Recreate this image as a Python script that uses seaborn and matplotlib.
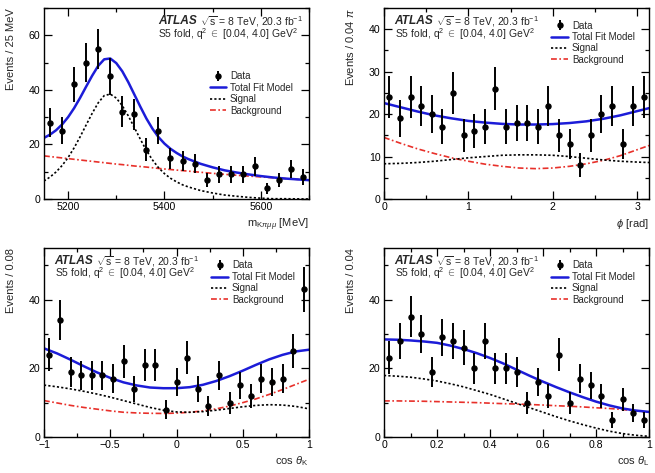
import numpy as np
import matplotlib
matplotlib.use("Agg")
import matplotlib.pyplot as plt
from matplotlib.ticker import AutoMinorLocator, MultipleLocator, FuncFormatter
import seaborn as sns

# ---- data: binned counts ----
mass_counts = [28, 25, 42, 50, 55, 45, 32, 31, 18, 25, 15, 14, 13, 7, 9, 9, 9, 12, 4, 7, 11, 8]
phi_counts = [24, 19, 24, 22, 20, 17, 25, 15, 16, 17, 26, 17, 18, 18, 17, 22, 15, 13, 8, 15, 20, 22, 13, 22, 24]
ctk_counts = [24, 34, 19, 18, 18, 18, 17, 22, 14, 21, 21, 8, 16, 23, 14, 9, 18, 10, 15, 12, 17, 16, 17, 25, 43]
ctl_counts = [23, 28, 35, 30, 19, 29, 28, 26, 20, 28, 20, 20, 19, 10, 16, 12, 24, 10, 17, 15, 12, 5, 11, 7, 5]

# ---- fit curves ----
mass_x = [5150, 5162.5, 5175, 5187.5, 5200, 5212.5, 5225, 5237.5, 5250, 5262.5, 5275, 5287.5,
          5300, 5312.5, 5325, 5337.5, 5350, 5362.5, 5375, 5387.5, 5400, 5412.5, 5425, 5437.5,
          5450, 5475, 5500, 5525, 5550, 5575, 5600, 5625, 5650, 5675, 5700]
mass_total = [22.4, 23.6, 25.2, 27.3, 30.0, 33.3, 37.1, 41.2, 45.2, 48.8, 51.2, 51.5,
              49.8, 46.8, 42.8, 38.3, 33.8, 29.5, 25.8, 22.7, 20.3, 18.4, 16.9, 15.6,
              14.6, 12.9, 11.6, 10.5, 9.7, 9.0, 8.4, 7.9, 7.5, 7.2, 6.9]
mass_sig = [6.6, 8.05, 9.9, 12.25, 15.2, 18.75, 22.8, 27.15, 31.4, 35.25, 37.9, 38.45,
            37.0, 34.2, 30.45, 26.2, 21.9, 17.8, 14.35, 11.5, 9.3, 7.6, 6.3, 5.2,
            4.4, 3.1, 2.2, 1.45, 1.0, 0.6, 0.3, 0.1, 0.1, 0.05, 0.0]
mass_bkg = [15.8, 15.55, 15.3, 15.05, 14.8, 14.55, 14.3, 14.05, 13.8, 13.55, 13.3, 13.05,
            12.8, 12.6, 12.35, 12.1, 11.9, 11.7, 11.45, 11.2, 11.0, 10.8, 10.6, 10.4,
            10.2, 9.8, 9.4, 9.05, 8.7, 8.4, 8.1, 7.8, 7.5, 7.2, 6.9]

phi_x = [0, 0.2, 0.4, 0.6, 0.8, 1.0, 1.2, 1.4, 1.6, 1.8, 2.0, 2.2, 2.4, 2.6, 2.8, 3.0, np.pi]
phi_total = [22.6, 21.6, 20.6, 19.7, 19.0, 18.4, 18.0, 17.7, 17.55, 17.55, 17.65, 17.9, 18.3, 18.9, 19.7, 20.7, 21.4]
phi_sig = [8.3, 8.4, 8.6, 8.9, 9.3, 9.7, 10.0, 10.3, 10.4, 10.4, 10.3, 10.0, 9.6, 9.2, 8.9, 8.7, 8.6]
phi_bkg = [14.5, 13.1, 11.8, 10.7, 9.7, 8.9, 8.2, 7.7, 7.3, 7.15, 7.3, 7.7, 8.3, 9.1, 10.2, 11.6, 12.6]

ctk_x = [-1.0, -0.9, -0.8, -0.7, -0.6, -0.5, -0.4, -0.3, -0.2, -0.1, 0.0,
         0.1, 0.2, 0.3, 0.4, 0.5, 0.6, 0.7, 0.8, 0.9, 1.0]
ctk_total = [25.8, 24.3, 22.5, 20.6, 18.8, 17.2, 15.9, 15.0, 14.4, 14.2, 14.2,
             14.5, 15.2, 16.3, 17.7, 19.3, 21.0, 22.6, 23.9, 24.9, 25.4]
ctk_sig = [15.1, 14.6, 14.0, 13.3, 12.5, 11.6, 10.6, 9.6, 8.6, 7.8, 7.3,
           7.2, 7.4, 7.8, 8.3, 8.8, 9.2, 9.4, 9.3, 8.9, 8.2]
ctk_bkg = [10.6, 9.9, 9.2, 8.6, 8.1, 7.6, 7.2, 7.0, 6.9, 6.85, 6.95,
           7.2, 7.6, 8.2, 9.0, 10.0, 11.1, 12.4, 13.8, 15.3, 16.8]

ctl_x = [0.0, 0.05, 0.1, 0.15, 0.2, 0.25, 0.3, 0.35, 0.4, 0.45, 0.5,
         0.55, 0.6, 0.65, 0.7, 0.75, 0.8, 0.85, 0.9, 0.95, 1.0]
ctl_total = [28.4, 28.3, 28.1, 27.8, 27.4, 26.6, 25.6, 24.4, 23.0, 21.4, 19.6,
             17.8, 16.1, 14.5, 13.0, 11.6, 10.3, 9.2, 8.3, 7.7, 7.3]
ctl_sig = [17.9, 17.7, 17.4, 16.9, 16.3, 15.5, 14.6, 13.5, 12.4, 11.1, 9.8,
           8.5, 7.2, 5.9, 4.7, 3.6, 2.6, 1.7, 1.0, 0.5, 0.2]
ctl_bkg = [10.5, 10.5, 10.45, 10.4, 10.3, 10.2, 10.1, 10.0, 9.85, 9.7, 9.6,
           9.45, 9.3, 9.1, 8.95, 8.75, 8.5, 8.3, 8.0, 7.6, 7.2]

sns.set_style("ticks")
plt.rcParams['font.family'] = ['Liberation Sans', 'DejaVu Sans']
plt.rcParams['mathtext.fontset'] = 'custom'
plt.rcParams['mathtext.rm'] = 'Liberation Sans'
plt.rcParams['mathtext.it'] = 'Liberation Sans:italic'
plt.rcParams['mathtext.bf'] = 'Liberation Sans:bold'

BLUE = '#1c1cd8'
RED = '#e8302a'

fig = plt.figure(figsize=(6.55, 4.73), dpi=100)

panels = [
    dict(pos=[44/655, 1-199/473, 265/655, 191/473], counts=mass_counts, rng=(5150, 5700),
         cx=mass_x, tot=mass_total, sig=mass_sig, bkg=mass_bkg, ylim=70, ymaj=20,
         xmaj=200, xlabel=r'm$_{\mathrm{K}\pi\mu\mu}$ [MeV]', ylabel='Events / 25 MeV',
         atlas_x=0.43, leg=(0.603, 0.70)),
    dict(pos=[384/655, 1-199/473, 265/655, 191/473], counts=phi_counts, rng=(0, np.pi),
         cx=phi_x, tot=phi_total, sig=phi_sig, bkg=phi_bkg, ylim=45, ymaj=10,
         xmaj=1, xlabel=r'$\phi$ [rad]', ylabel=r'Events / 0.04 $\pi$',
         atlas_x=0.04, leg=(0.61, 0.965)),
    dict(pos=[44/655, 1-437/473, 265/655, 189/473], counts=ctk_counts, rng=(-1, 1),
         cx=ctk_x, tot=ctk_total, sig=ctk_sig, bkg=ctk_bkg, ylim=55, ymaj=20,
         xmaj=0.5, xlabel=r'cos $\theta_{\mathrm{K}}$', ylabel='Events / 0.08',
         atlas_x=0.04, leg=(0.61, 0.965)),
    dict(pos=[384/655, 1-437/473, 265/655, 189/473], counts=ctl_counts, rng=(0, 1),
         cx=ctl_x, tot=ctl_total, sig=ctl_sig, bkg=ctl_bkg, ylim=55, ymaj=20,
         xmaj=0.2, xlabel=r'cos $\theta_{\mathrm{L}}$', ylabel='Events / 0.04',
         atlas_x=0.04, leg=(0.61, 0.965)),
]

for p in panels:
    ax = fig.add_axes(p['pos'])
    n = len(p['counts'])
    lo, hi = p['rng']
    width = (hi - lo) / n
    centers = lo + width * (np.arange(n) + 0.5)
    counts = np.array(p['counts'], dtype=float)

    sns.lineplot(x=p['cx'], y=p['bkg'], ax=ax, color=RED, lw=1.2,
                 linestyle=(0, (3.5, 1.5, 1, 1.5)), label='Background')
    sns.lineplot(x=p['cx'], y=p['sig'], ax=ax, color='black', lw=1.2,
                 linestyle=(0, (1.3, 1.3)), label='Signal')
    sns.lineplot(x=p['cx'], y=p['tot'], ax=ax, color=BLUE, lw=1.8, label='Total Fit Model')
    ax.errorbar(centers, counts, yerr=np.sqrt(counts), fmt='o', color='black',
                ms=3.6, elinewidth=1.4, capsize=0, label='Data', zorder=5)

    ax.set_xlim(lo, hi)
    ax.set_ylim(0, p['ylim'])
    ax.xaxis.set_major_locator(MultipleLocator(p['xmaj']))
    ax.yaxis.set_major_locator(MultipleLocator(p['ymaj']))
    ax.xaxis.set_minor_locator(AutoMinorLocator(2))
    ax.yaxis.set_minor_locator(AutoMinorLocator(2))
    ax.tick_params(which='both', direction='in', top=True, right=True, labelsize=7.6,
                   width=0.9, colors='black')
    ax.tick_params(which='major', length=5.5, pad=2.5)
    ax.tick_params(which='minor', length=3)
    for s in ax.spines.values():
        s.set_linewidth(1.0)
        s.set_color('black')
    ax.xaxis.set_major_formatter(FuncFormatter(
        lambda v, pos: ('%g' % v).replace('-', '\u2212')))

    ax.set_xlabel(p['xlabel'], loc='right', fontsize=8, labelpad=3)
    ax.set_ylabel(p['ylabel'], loc='top', fontsize=8, labelpad=9)

    ax.text(p['atlas_x'], 0.93, 'ATLAS', transform=ax.transAxes, fontsize=8.6,
            fontweight='bold', fontstyle='italic', va='center')
    ax.text(p['atlas_x'] + 0.158, 0.93, r'$\sqrt{\mathrm{s}}$ = 8 TeV, 20.3 fb$^{-1}$',
            transform=ax.transAxes, fontsize=7.5, va='center')
    ax.text(p['atlas_x'], 0.865, r'S5 fold, q$^{2}$ $\in$ [0.04, 4.0] GeV$^{2}$',
            transform=ax.transAxes, fontsize=7.5, va='center')

    h, l = ax.get_legend_handles_labels()
    order = ['Data', 'Total Fit Model', 'Signal', 'Background']
    hd = dict(zip(l, h))
    ax.legend([hd[k] for k in order], order, loc='upper left', bbox_to_anchor=p['leg'],
              frameon=False, fontsize=7.0, handlelength=1.7, handletextpad=0.4,
              labelspacing=0.15, borderaxespad=0.2)

fig.savefig('out.png', dpi=100)
